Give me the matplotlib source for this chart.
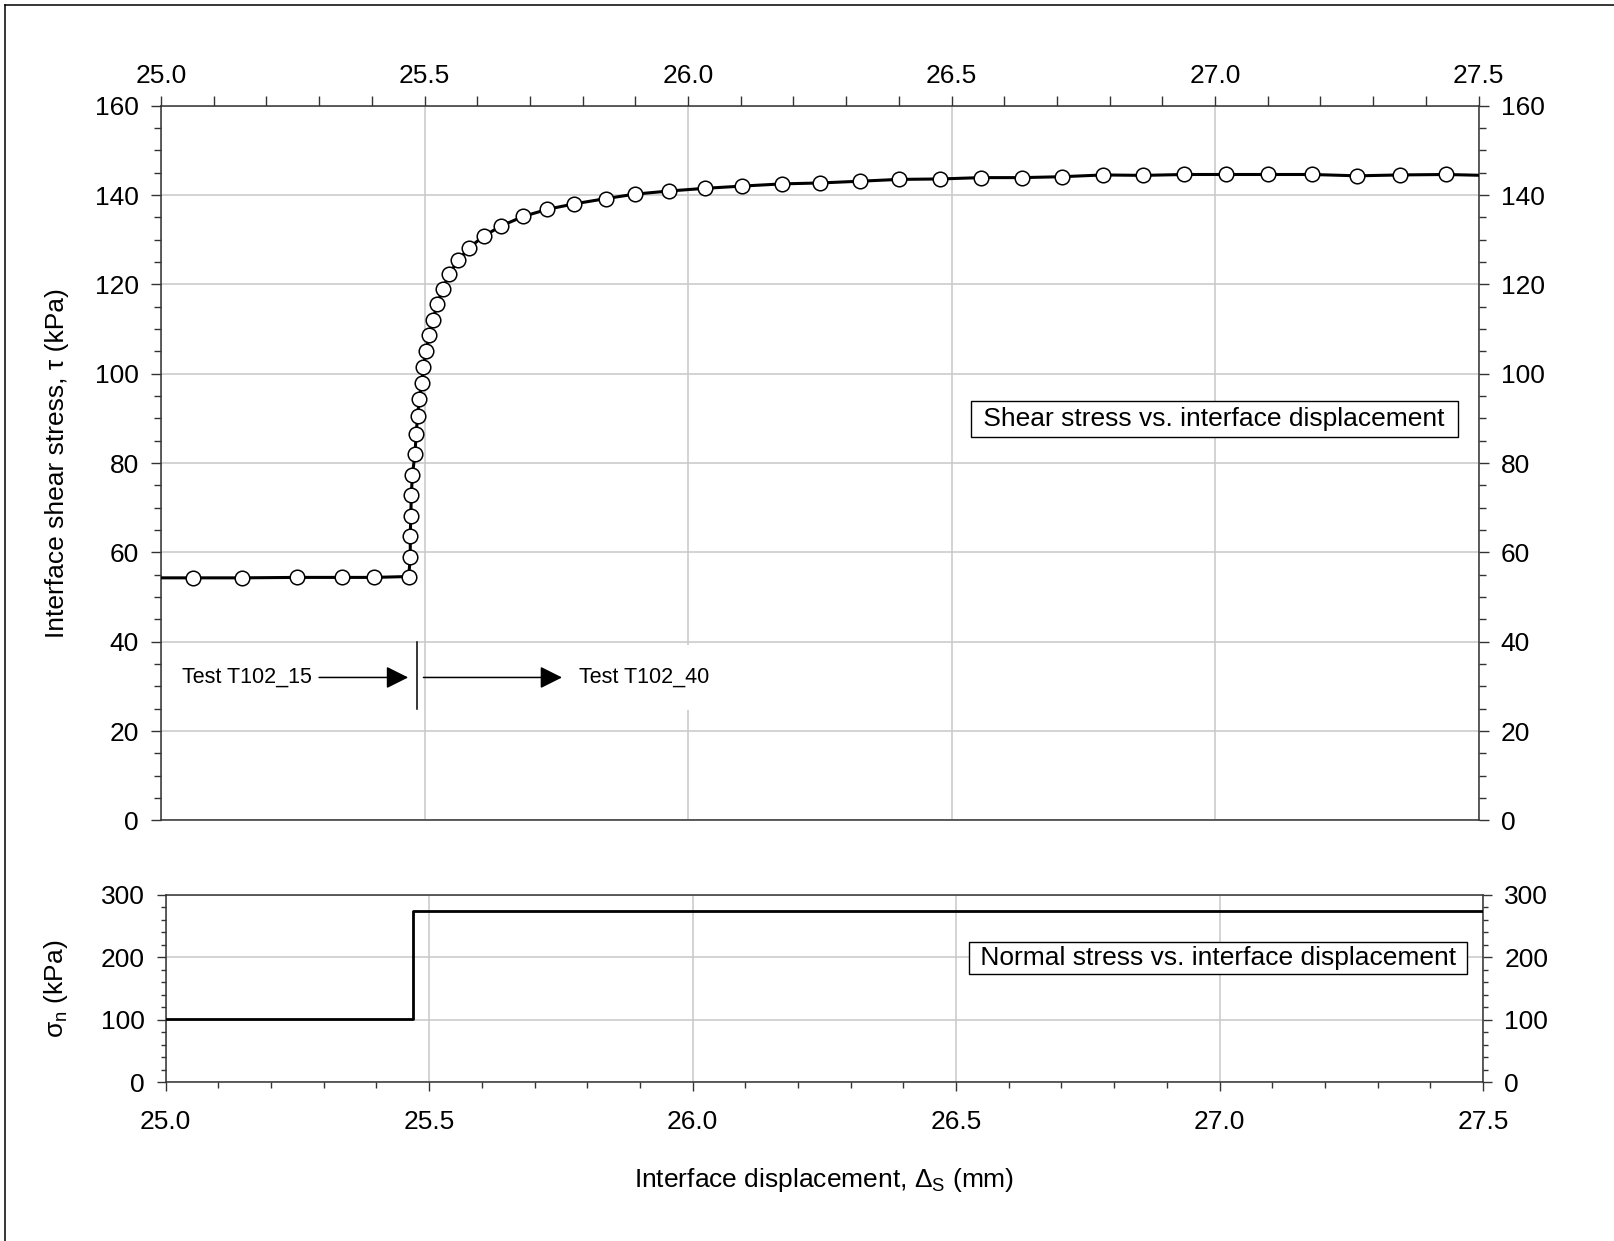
import matplotlib
matplotlib.use("Agg")
import matplotlib.pyplot as plt
from matplotlib.lines import Line2D
from matplotlib.ticker import MultipleLocator

plt.rcParams['font.family'] = ['Liberation Sans', 'DejaVu Sans']
plt.rcParams['mathtext.fontset'] = 'custom'
plt.rcParams['mathtext.rm'] = 'Liberation Sans'
plt.rcParams['mathtext.it'] = 'Liberation Sans'

# shear stress vs interface displacement (first and last points only extend the line)
tau_x = [24.99, 25.060, 25.153, 25.259, 25.343, 25.405, 25.470, 25.473, 25.473, 25.474,
         25.475, 25.477, 25.482, 25.484, 25.487, 25.490, 25.495, 25.498, 25.503, 25.509,
         25.516, 25.524, 25.535, 25.547, 25.564, 25.585, 25.612, 25.646, 25.687, 25.733,
         25.783, 25.844, 25.899, 25.964, 26.032, 26.102, 26.179, 26.250, 26.327, 26.400,
         26.478, 26.556, 26.634, 26.709, 26.788, 26.864, 26.942, 27.021, 27.100, 27.185,
         27.270, 27.351, 27.438, 27.51]
tau_y = [54.3, 54.3, 54.3, 54.4, 54.4, 54.4, 54.6, 58.9, 63.7, 68.2,
         72.8, 77.4, 82.0, 86.4, 90.6, 94.3, 98.0, 101.5, 105.0, 108.6,
         112.0, 115.5, 119.0, 122.4, 125.4, 128.2, 130.8, 133.1, 135.2, 136.8,
         138.0, 139.2, 140.2, 140.9, 141.5, 142.0, 142.5, 142.7, 143.1, 143.5,
         143.6, 143.9, 143.9, 144.1, 144.5, 144.4, 144.6, 144.6, 144.6, 144.6,
         144.3, 144.5, 144.6, 144.4]

# normal stress steps
sig_x = [24.99, 25.47, 27.51]
sig_y = [102, 275, 275]

# test split annotation
split_x = 25.485
split_y = [25, 40]
arrow_y = 32
arrow1 = [25.300, 25.469]
arrow2 = [25.498, 25.761]
label1_x = 25.287
label2_x = 25.794

W, H = 1614, 1241
fig = plt.figure(figsize=(W / 100, H / 100), dpi=100)

ax1 = fig.add_axes([161 / W, 1 - 820.4 / H, 1317.5 / W, 714.7 / H])
ax2 = fig.add_axes([165.7 / W, 1 - 1082.3 / H, 1317.3 / W, 187.3 / H])

spine_c = '#333333'
grid_c = '#c8c8c8'
fs = 19

# ---- top panel
ax1.plot(tau_x, tau_y, color='black', lw=2.2, marker='o', ms=10.5, mfc='white',
         mec='black', mew=1.1, markevery=slice(1, -1), zorder=5)
ax1.set_xlim(25.0, 27.5)
ax1.set_ylim(0, 160)
ax1.xaxis.set_major_locator(MultipleLocator(0.5))
ax1.xaxis.set_minor_locator(MultipleLocator(0.1))
ax1.yaxis.set_major_locator(MultipleLocator(20))
ax1.yaxis.set_minor_locator(MultipleLocator(5))
ax1.xaxis.set_major_formatter(lambda v, p: f"{v:.1f}")
ax1.tick_params(axis='x', which='both', top=True, bottom=False, labeltop=True,
                labelbottom=False, direction='out', length=7, width=1.0,
                color=spine_c, labelsize=fs, pad=6)
ax1.tick_params(axis='y', which='major', left=True, right=True, labelleft=True,
                labelright=True, direction='out', length=7, width=1.0,
                color=spine_c, labelsize=fs, pad=9)
ax1.tick_params(axis='y', which='minor', left=True, right=True, direction='out',
                length=4.7, width=1.0, color=spine_c)
ax1.grid(True, which='major', color=grid_c, lw=1.1)
ax1.set_axisbelow(True)

ax1.plot([split_x, split_x], split_y, color='black', lw=1.1, zorder=6)
ap = dict(arrowstyle='-|>,head_length=0.4,head_width=0.2', color='black', lw=1.1,
          shrinkA=0, shrinkB=0, mutation_scale=34)
ax1.annotate('', xy=(arrow1[1], arrow_y), xytext=(arrow1[0], arrow_y), arrowprops=ap, zorder=6)
ax1.annotate('', xy=(arrow2[1], arrow_y), xytext=(arrow2[0], arrow_y), arrowprops=ap, zorder=6)
ax1.text(label1_x, arrow_y, 'Test T102_15', fontsize=15.5, ha='right', va='center', zorder=4)
ax1.text(label2_x, arrow_y, 'Test T102_40', fontsize=15.5, ha='left', va='center', zorder=2,
         bbox=dict(facecolor='white', edgecolor='none', pad=16))

ax1.text(0.7995, 0.5619, ' Shear stress vs. interface displacement ', transform=ax1.transAxes,
         fontsize=fs, ha='center', va='center', zorder=7,
         bbox=dict(boxstyle='square,pad=0.22', facecolor='white', edgecolor='black', lw=1.0))

# ---- bottom panel
ax2.plot(sig_x, sig_y, color='black', lw=2.0, drawstyle='steps-post', zorder=5)
ax2.set_xlim(25.0, 27.5)
ax2.set_ylim(0, 300)
ax2.xaxis.set_major_locator(MultipleLocator(0.5))
ax2.xaxis.set_minor_locator(MultipleLocator(0.1))
ax2.yaxis.set_major_locator(MultipleLocator(100))
ax2.yaxis.set_minor_locator(MultipleLocator(20))
ax2.xaxis.set_major_formatter(lambda v, p: f"{v:.1f}")
ax2.tick_params(axis='x', which='major', top=False, bottom=True, direction='out',
                length=6.7, width=1.0, color=spine_c, labelsize=fs, pad=13)
ax2.tick_params(axis='x', which='minor', top=False, bottom=True, direction='out',
                length=4.3, width=1.0, color=spine_c)
ax2.tick_params(axis='y', which='major', left=True, right=True, labelleft=True,
                labelright=True, direction='out', length=6.3, width=1.0,
                color=spine_c, labelsize=fs, pad=9)
ax2.tick_params(axis='y', which='minor', left=True, right=True, direction='out',
                length=3.6, width=1.0, color=spine_c)
ax2.grid(True, which='major', color=grid_c, lw=1.1)
ax2.set_axisbelow(True)

ax2.text(0.7988, 0.6626, ' Normal stress vs. interface displacement ', transform=ax2.transAxes,
         fontsize=fs, ha='center', va='center', zorder=7,
         bbox=dict(boxstyle='square,pad=0.15', facecolor='white', edgecolor='black', lw=1.0))

for ax in (ax1, ax2):
    for s in ax.spines.values():
        s.set_color(spine_c)
        s.set_linewidth(1.1)

# axis labels
fig.text(57 / W, 1 - 463 / H, 'Interface shear stress, \u03c4 (kPa)', rotation=90,
         fontsize=fs, ha='center', va='center')
fig.text(56 / W, 1 - 989 / H, '\u03c3$_\\mathregular{n}$ (kPa)', rotation=90,
         fontsize=fs, ha='center', va='center')
fig.text(824 / W, 1 - 1180 / H, 'Interface displacement, \u0394$_\\mathregular{S}$ (mm)',
         fontsize=fs, ha='center', va='center')

# frame lines at left and top
fig.add_artist(Line2D([5 / W, 5 / W], [0, 1 - 5 / H], color='black', lw=1.1))
fig.add_artist(Line2D([5 / W, 1], [1 - 5 / H, 1 - 5 / H], color='black', lw=1.1))

fig.savefig('out.png', dpi=100)
